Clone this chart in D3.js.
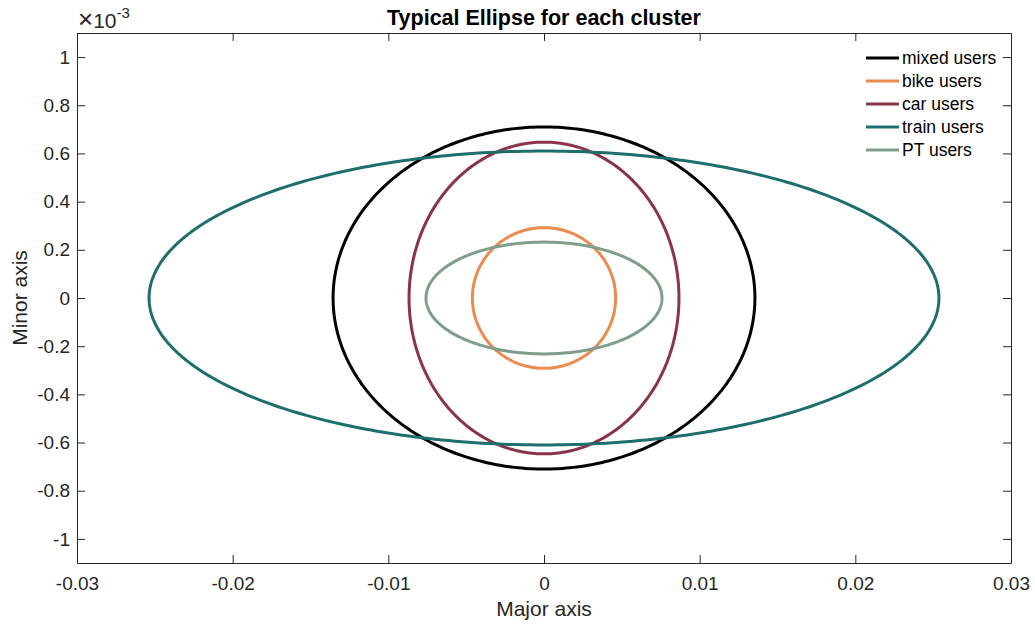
<!DOCTYPE html>
<html>
<head>
<meta charset="utf-8">
<script src="https://cdn.jsdelivr.net/npm/d3@7"></script>
<style>
  html, body { margin: 0; padding: 0; background: #fff; }
  svg { display: block; font-family: "Liberation Sans", Arial, sans-serif; }
  .tick text { font-size: 19px; fill: #262626; }
  .domain, .tick line { stroke: #262626; }
</style>
</head>
<body>
<svg id="chart" width="1035" height="628"></svg>
<script>
// cluster names, semi-axes (major in x units, minor in 1e-3 units), colours
const clusters = ["mixed users", "bike users", "car users", "train users", "PT users"];
const majorSemi = [0.01355, 0.0046, 0.00867, 0.02537, 0.00758];
const minorSemi = [0.71, 0.292, 0.647, 0.61, 0.232];
const colors = ["#000000", "#EB8B4F", "#8A3447", "#1F6E6E", "#7E9E8B"];

const xTicks = [-0.03, -0.02, -0.01, 0, 0.01, 0.02, 0.03];
const yTicks = [-1, -0.8, -0.6, -0.4, -0.2, 0, 0.2, 0.4, 0.6, 0.8, 1];

const svg = d3.select("#chart");
const mLeft = 77, mRight = 1011, mTop = 33, mBottom = 563;

const x = d3.scaleLinear().domain([-0.03, 0.03]).range([mLeft, mRight]);
const y = d3.scaleLinear().domain([-1.1, 1.1]).range([mBottom, mTop]);

/* ---------- axes (MATLAB box style, ticks inward) ---------- */
const fmtX = d => d === 0 ? "0" : String(+d.toFixed(2));
const fmtY = d => d === 0 ? "0" : String(+d.toFixed(1));

svg.append("g")
  .attr("transform", `translate(0,${mBottom})`)
  .call(d3.axisBottom(x).tickValues(xTicks).tickFormat(fmtX).tickSize(-8).tickPadding(14).tickSizeOuter(0));

svg.append("g")
  .attr("transform", `translate(0,${mTop})`)
  .call(d3.axisTop(x).tickValues(xTicks).tickFormat("").tickSize(-8).tickSizeOuter(0));

svg.append("g")
  .attr("transform", `translate(${mLeft},0)`)
  .call(d3.axisLeft(y).tickValues(yTicks).tickFormat(fmtY).tickSize(-8).tickPadding(7).tickSizeOuter(0));

svg.append("g")
  .attr("transform", `translate(${mRight},0)`)
  .call(d3.axisRight(y).tickValues(yTicks).tickFormat("").tickSize(-8).tickSizeOuter(0));

svg.selectAll(".domain").attr("stroke-width", 1);

/* ---------- ellipses ---------- */
const theta = d3.range(0, 361, 1).map(a => a * Math.PI / 180);
const line = d3.line().x(d => x(d[0])).y(d => y(d[1]));

const plot = svg.append("g");
clusters.forEach((name, i) => {
  const pts = theta.map(t => [majorSemi[i] * Math.cos(t), minorSemi[i] * Math.sin(t)]);
  plot.append("path")
    .attr("d", line(pts))
    .attr("fill", "none")
    .attr("stroke", colors[i])
    .attr("stroke-width", 3);
});

/* ---------- legend ---------- */
const legend = svg.append("g").attr("transform", "translate(866,58)");
clusters.forEach((name, i) => {
  const row = legend.append("g").attr("transform", `translate(0,${i * 23})`);
  row.append("line").attr("x1", 0).attr("x2", 33).attr("y1", 0).attr("y2", 0)
    .attr("stroke", colors[i]).attr("stroke-width", 3);
  row.append("text").attr("x", 36).attr("y", 0).attr("dy", "0.35em")
    .attr("font-size", 17.5).attr("fill", "#000").text(name);
});

/* ---------- texts ---------- */
svg.append("text")
  .attr("x", (mLeft + mRight) / 2).attr("y", 25)
  .attr("text-anchor", "middle").attr("font-size", 21.5).attr("font-weight", "bold")
  .attr("fill", "#000").text("Typical Ellipse for each cluster");

const expo = svg.append("text").attr("x", 78).attr("y", 28).attr("fill", "#262626");
expo.append("tspan").attr("font-size", 26).attr("font-weight", "300").text("\u00d7");
expo.append("tspan").attr("font-size", 21).text("10");
expo.append("tspan").attr("dy", -10).attr("font-size", 15).text("-3");

svg.append("text")
  .attr("x", (mLeft + mRight) / 2).attr("y", 616)
  .attr("text-anchor", "middle").attr("font-size", 21).attr("fill", "#262626")
  .text("Major axis");

svg.append("text")
  .attr("transform", `translate(27,${(mTop + mBottom) / 2}) rotate(-90)`)
  .attr("text-anchor", "middle").attr("font-size", 21).attr("fill", "#262626")
  .text("Minor axis");
</script>
</body>
</html>
